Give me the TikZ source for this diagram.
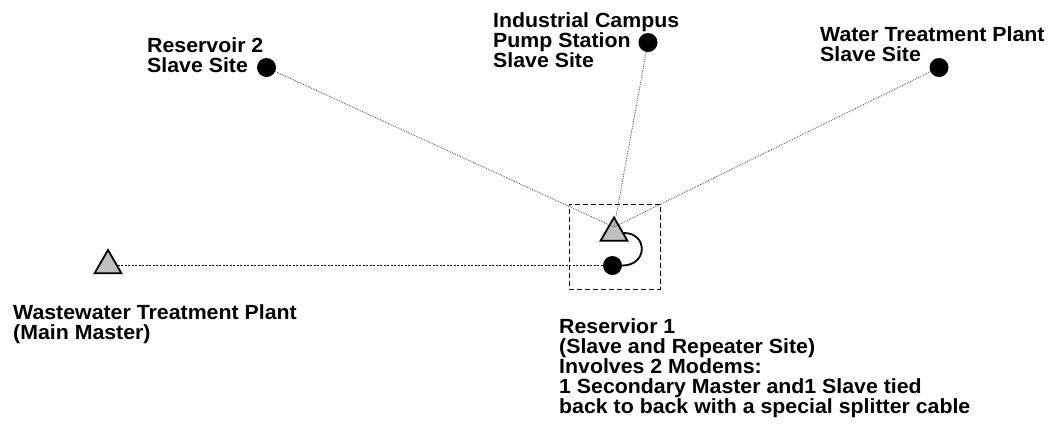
\documentclass[tikz,border=0pt]{standalone}
\usepackage{fontspec}
\setmainfont{Liberation Sans}[FakeStretch=1.04]
\usetikzlibrary{shapes.geometric}

\tikzset{
  site/.style={circle,fill=black,inner sep=0,minimum size=19pt},
  master/.style={regular polygon,regular polygon sides=3,draw=black,line width=1.8pt,
    fill=black!25,inner sep=0,minimum size=31pt},
  link/.style={line width=0.8pt,densely dotted,black!70},
  mainlink/.style={line width=0.9pt,dash pattern=on 2pt off 1.5pt,black},
  label/.style={anchor=north west,inner sep=0,align=left,
    font=\fontsize{20.5}{20}\selectfont\bfseries}
}

\begin{document}
\begin{tikzpicture}[x=1pt,y=-1pt]
\useasboundingbox (0,0) rectangle (1055,432);

% sites
\node[site] (res2) at (266.5,67.5) {};
\node[site] (campus) at (648,42.5) {};
\node[site] (water) at (939,67.5) {};
\node[master] (waste) at (108,265.5) {};
\node[master] (r1master) at (614,233) {};
\node[site] (r1slave) at (612.5,265.5) {};
\coordinate (hub) at (614,227);

% repeater box
\node[draw,line width=1pt,dash pattern=on 5pt off 3pt,inner sep=0,
  minimum width=91pt,minimum height=85pt] (r1box) at (614.5,246.5) {};

% radio links
\draw[link] (res2) -- (hub);
\draw[link] (campus) -- (hub);
\draw[link] (water) -- (hub);
\draw[mainlink] (waste) -- (r1slave);

% splitter cable
\draw[line width=1.8pt] (r1master.east) .. controls (648,233) and (648,265.5) .. (r1slave.east);

% labels
\node[label] (res2lbl) at (147,37) {Reservoir 2\\Slave Site};
\node[label] (campuslbl) at (493,12.5) {Industrial Campus\\Pump Station\\Slave Site};
\node[label] (waterlbl) at (820,26) {Water Treatment Plant\\Slave Site};
\node[label] (wastelbl) at (13,304.5) {Wastewater Treatment Plant\\(Main Master)};
\node[label] (r1lbl) at (559,318.5) {Reservior 1\\(Slave and Repeater Site)\\Involves 2 Modems:\\1 Secondary Master and1 Slave tied\\back to back with a special splitter cable};
\end{tikzpicture}
\end{document}
